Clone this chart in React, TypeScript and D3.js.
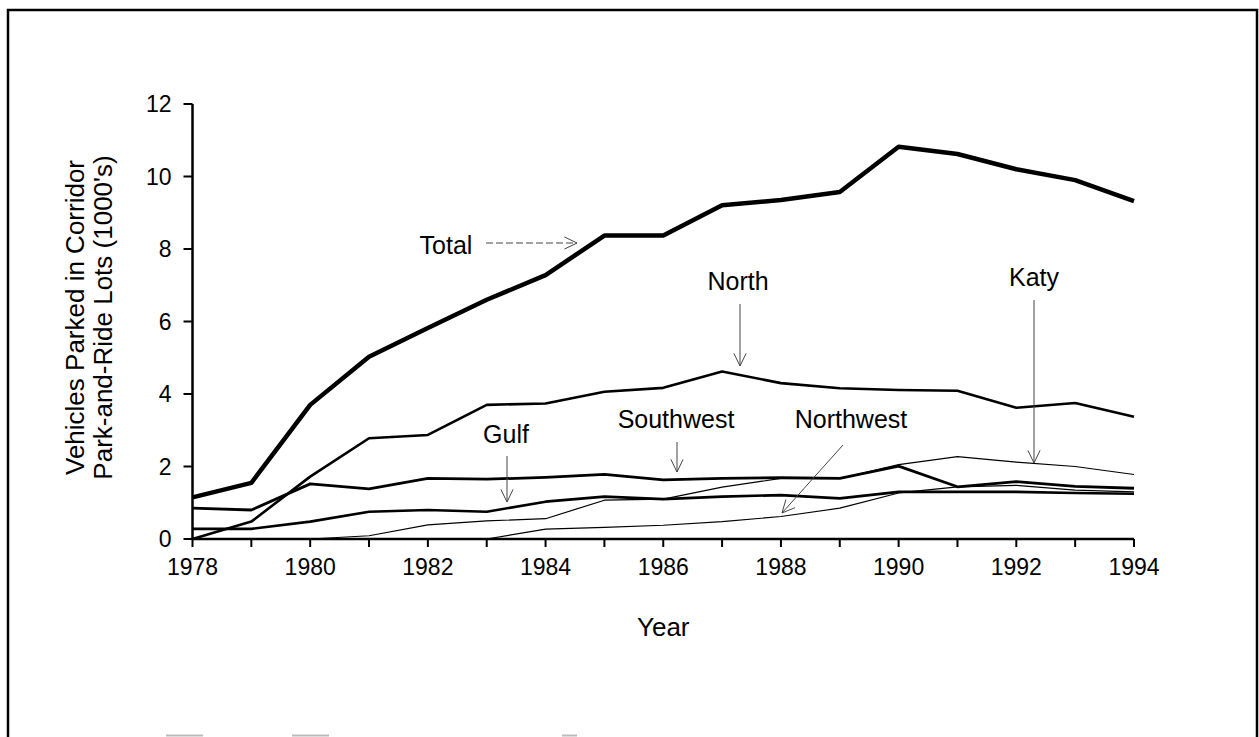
import React from "react";
import * as d3 from "d3";

const years = [1978,1979,1980,1981,1982,1983,1984,1985,1986,1987,1988,1989,1990,1991,1992,1993,1994];
const total = [1.15,1.55,3.7,5.03,5.82,6.6,7.28,8.37,8.37,9.21,9.35,9.57,10.82,10.62,10.2,9.9,9.32];
const north = [0,0.48,1.72,2.78,2.87,3.7,3.74,4.06,4.17,4.62,4.3,4.16,4.11,4.09,3.62,3.75,3.37];
const southwest = [0.85,0.8,1.52,1.38,1.67,1.65,1.7,1.78,1.63,1.67,1.69,1.67,2.01,1.44,1.58,1.45,1.4];
const gulf = [0.28,0.28,0.48,0.75,0.8,0.75,1.03,1.17,1.1,1.17,1.21,1.12,1.3,1.3,1.3,1.27,1.25];
const katy = [0,0,0,0.09,0.39,0.5,0.56,1.07,1.1,1.43,1.67,1.67,2.05,2.27,2.12,2.0,1.78];
const northwest = [0,0,0,0,0,0,0.27,0.32,0.38,0.48,0.62,0.85,1.27,1.44,1.48,1.35,1.3];
const yTicks = [0,2,4,6,8,10,12];
const xTicks = [1978,1980,1982,1984,1986,1988,1990,1992,1994];

const seriesList = [
  { name: "Northwest", values: northwest, w: 1.2 },
  { name: "Katy", values: katy, w: 1.2 },
  { name: "Gulf", values: gulf, w: 2.6 },
  { name: "Southwest", values: southwest, w: 2.8 },
  { name: "North", values: north, w: 2.6 },
  { name: "Total", values: total, w: 4.5 },
];

const FONT = "'Liberation Sans', Arial, Helvetica, sans-serif";

export default function App() {
  const x = d3.scaleLinear().domain([1978, 1994]).range([192.5, 1134]);
  const y = d3.scaleLinear().domain([0, 12]).range([539, 104]);
  const line = d3.line<number>().x((_, i) => x(years[i])).y((v) => y(v));
  const allYears = d3.range(1978, 1995);

  const arrowHead = (x2: number, y2: number, x1: number, y1: number, size = 10) => {
    const a = Math.atan2(y2 - y1, x2 - x1);
    const s = 0.45;
    const p1 = [x2 - size * Math.cos(a - s), y2 - size * Math.sin(a - s)];
    const p2 = [x2 - size * Math.cos(a + s), y2 - size * Math.sin(a + s)];
    return `M${p1[0]},${p1[1]}L${x2},${y2}L${p2[0]},${p2[1]}`;
  };

  const annotations = [
    { label: "Total", tx: 446, ty: 254, x1: 486, y1: 243, x2: 577, y2: 243, dash: "7,3" },
    { label: "North", tx: 738, ty: 290, x1: 740, y1: 304, x2: 740, y2: 366, dash: "" },
    { label: "Gulf", tx: 506, ty: 443, x1: 507, y1: 456, x2: 507, y2: 502, dash: "" },
    { label: "Southwest", tx: 676, ty: 428, x1: 677, y1: 442, x2: 677, y2: 472, dash: "" },
    { label: "Northwest", tx: 851, ty: 428, x1: 843, y1: 445, x2: 782, y2: 513, dash: "" },
    { label: "Katy", tx: 1034, ty: 286, x1: 1034, y1: 300, x2: 1034, y2: 463, dash: "" },
  ];

  return (
    <svg width={1259} height={737} style={{ position: "absolute", left: 0, top: 0, background: "#fff" }} fontFamily={FONT}>
      <rect x={8} y={10} width={1249} height={740} fill="none" stroke="#000" strokeWidth={2.5} />
      <g stroke="#bbb" strokeWidth={2}>
        <line x1={166} x2={203} y1={735.5} y2={735.5} />
        <line x1={292} x2={329} y1={735.5} y2={735.5} />
        <line x1={562} x2={577} y1={735.5} y2={735.5} />
      </g>
      <line x1={x(1978)} x2={x(1978)} y1={y(12)} y2={y(0)} stroke="#000" strokeWidth={2.5} />
      <line x1={x(1978)} x2={x(1994)} y1={y(0)} y2={y(0)} stroke="#000" strokeWidth={2.5} />
      {yTicks.map((t) => (
        <g key={"y" + t}>
          <line x1={x(1978) - 9} x2={x(1978)} y1={y(t)} y2={y(t)} stroke="#000" strokeWidth={2} />
          <text x={x(1978) - 21} y={y(t)} dy="0.35em" textAnchor="end" fontSize={23}>{t}</text>
        </g>
      ))}
      {allYears.map((yr) => (
        <line key={"xt" + yr} x1={x(yr)} x2={x(yr)} y1={y(0)} y2={y(0) + 8} stroke="#000" strokeWidth={2} />
      ))}
      {xTicks.map((t) => (
        <text key={"x" + t} x={x(t)} y={y(0) + 36} textAnchor="middle" fontSize={23}>{t}</text>
      ))}
      <text x={(x(1978) + x(1994)) / 2} y={636} textAnchor="middle" fontSize={26}>Year</text>
      <text transform={`translate(84, ${(y(0) + y(12)) / 2 - 4}) rotate(-90)`} textAnchor="middle" fontSize={26}>Vehicles Parked in Corridor</text>
      <text transform={`translate(112, ${(y(0) + y(12)) / 2 - 4}) rotate(-90)`} textAnchor="middle" fontSize={26}>Park-and-Ride Lots (1000's)</text>
      {seriesList.map((s) => (
        <path key={s.name} d={line(s.values) || ""} fill="none" stroke="#000" strokeWidth={s.w} strokeLinejoin="round" />
      ))}
      {annotations.map((a) => (
        <g key={a.label}>
          <text x={a.tx} y={a.ty} textAnchor="middle" fontSize={25}>{a.label}</text>
          <line x1={a.x1} y1={a.y1} x2={a.x2} y2={a.y2} stroke="#444" strokeWidth={1} strokeDasharray={a.dash} />
          <path d={arrowHead(a.x2, a.y2, a.x1, a.y1, 14)} fill="none" stroke="#444" strokeWidth={1} />
        </g>
      ))}
    </svg>
  );
}
